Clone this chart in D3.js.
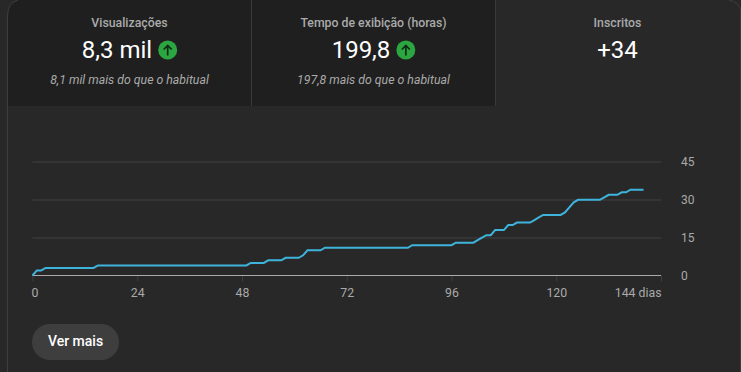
<!DOCTYPE html>
<meta charset="utf-8">
<script src="https://d3js.org/d3.v7.min.js"></script>
<style>
	html,body{margin:0;padding:0;background:#282828;overflow:hidden;}
	svg{display:block;font-family:Roboto,sans-serif;}
</style>
<div id="chart"></div>
<script>

// cumulative subscribers, one value per day (0 to 140)
var subscribers = [
	0,2,2,3,3,3,3,3,3,3,
	3,3,3,3,3,4,4,4,4,4,
	4,4,4,4,4,4,4,4,4,4,
	4,4,4,4,4,4,4,4,4,4,
	4,4,4,4,4,4,4,4,4,4,
	5,5,5,5,6,6,6,6,7,7,
	7,7,8,10,10,10,10,11,11,11,
	11,11,11,11,11,11,11,11,11,11,
	11,11,11,11,11,11,11,12,12,12,
	12,12,12,12,12,12,12,13,13,13,
	13,13,14,15,16,16,18,18,18,20,
	20,21,21,21,21,22,23,24,24,24,
	24,24,25,27,29,30,30,30,30,30,
	30,31,32,32,32,33,33,34,34,34,
	34
]
var xTicks = [0,24,48,72,96,120,144]
var yTicks = [0,15,30,45]

var cardTitles = ["Visualizações","Tempo de exibição (horas)","Inscritos"]
var cardValues = ["8,3 mil","199,8","+34"]
var cardNotes = ["8,1 mil mais do que o habitual","197,8 mais do que o habitual",""]
var cardArrows = [true,true,false]
var cardCenters = [129.5,373.5,617.5]

var w = 741
var h = 372

var svg = d3.select("#chart").append("svg").attr("width",w).attr("height",h)

svg.append("rect").attr("width",w).attr("height",h).attr("fill","#282828")

// dark part behind the first two cards
svg.append("path")
	.attr("d","M8,106V14Q8,2 20,0H495V106Z")
	.attr("fill","#1f1f1f")

// outer border with the rounded corners
svg.append("path")
	.attr("d","M7.5,"+h+"V16Q7.5,3 18,0")
	.attr("fill","none").attr("stroke","#3e3e3e")
svg.append("path")
	.attr("d","M729,0Q738,2 740.5,9V"+h)
	.attr("fill","none").attr("stroke","#3e3e3e")

svg.selectAll(".divider").data([251.5,495.5]).enter().append("line")
	.attr("class","divider")
	.attr("x1",function(d){return d}).attr("x2",function(d){return d})
	.attr("y1",0).attr("y2",106)
	.attr("stroke","#3a3a3a")

var cards = svg.selectAll(".card").data(cardTitles).enter().append("g").attr("class","card")

cards.append("text")
	.attr("x",function(d,i){return cardCenters[i]}).attr("y",27)
	.attr("text-anchor","middle")
	.attr("fill","#aaa")
	.style("font-size","12.3px").style("font-weight",500)
	.text(function(d){return d})

var values = cards.append("text")
	.attr("x",function(d,i){return cardCenters[i]}).attr("y",58)
	.attr("text-anchor","middle")
	.attr("fill","#fff")
	.style("font-size","24px")
	.text(function(d,i){return cardValues[i]})

cards.append("text")
	.attr("x",function(d,i){return cardCenters[i]}).attr("y",84)
	.attr("text-anchor","middle")
	.attr("fill","#aaa")
	.style("font-size","12.3px").style("font-style","italic")
	.text(function(d,i){return cardNotes[i]})

// the green up arrows sit right after the value, so the value moves left by half of it
values.each(function(d,i){
	if(!cardArrows[i]){return}
	var box = this.getBBox()
	var gap = 6
	var r = 9.5
	var shift = (gap+r*2)/2
	d3.select(this).attr("x",cardCenters[i]-shift)
	var cx = box.x-shift+box.width+gap+r
	var g = d3.select(this.parentNode).append("g").attr("transform","translate("+cx+",50)")
	g.append("circle").attr("r",r).attr("fill","#2ba640")
	g.append("path")
		.attr("d","M0,5.5V-4.5M-4,-0.5L0,-4.5L4,-0.5")
		.attr("fill","none").attr("stroke","#0f2a14").attr("stroke-width",1.7)
})

var x = d3.scaleLinear().domain([0,144]).range([32.5,661])
var y = d3.scaleLinear().domain([0,45]).range([275.5,162])

var gridAxis = d3.axisRight(y).tickValues(yTicks).tickSize(0).tickPadding(20)

var yG = svg.append("g").attr("transform","translate(661,0)").call(gridAxis)
yG.select(".domain").remove()
yG.selectAll("text").attr("fill","#aaa").style("font-size","12px").style("font-family","Roboto,sans-serif")

svg.selectAll(".grid").data(yTicks.slice(1)).enter().append("line")
	.attr("class","grid")
	.attr("x1",x(0)).attr("x2",x(144))
	.attr("y1",function(d){return Math.round(y(d))}).attr("y2",function(d){return Math.round(y(d))})
	.attr("stroke","#343434").attr("stroke-width",2)

var xAxis = d3.axisBottom(x).tickValues(xTicks).tickSize(6).tickPadding(7)
	.tickFormat(function(d){return d==144?"144 dias":d})

var xG = svg.append("g").attr("transform","translate(0,275.5)").call(xAxis)
xG.select(".domain").remove()
xG.selectAll("line").attr("stroke","#3e3e3e")
xG.selectAll("text").attr("fill","#aaa").style("font-size","12.3px").style("font-family","Roboto,sans-serif")
	.attr("text-anchor","middle")
xG.selectAll("text").filter(function(d){return d==144}).attr("text-anchor","end")
xG.selectAll("text").filter(function(d){return d==0}).attr("dx",2)

svg.append("line")
	.attr("x1",x(0)).attr("x2",x(144)).attr("y1",275.5).attr("y2",275.5)
	.attr("stroke","#aaa")

var line = d3.line()
	.x(function(d,i){return x(i)})
	.y(function(d){return y(d)})

svg.append("path").datum(subscribers)
	.attr("d",line)
	.attr("fill","none")
	.attr("stroke","#3eb4dc")
	.attr("stroke-width",2)

// button
svg.append("rect")
	.attr("x",32).attr("y",324).attr("width",87).attr("height",36).attr("rx",18)
	.attr("fill","#3e3e3e")
svg.append("text")
	.attr("x",75.5).attr("y",346)
	.attr("text-anchor","middle")
	.attr("fill","#fff")
	.style("font-size","14px").style("font-weight",500)
	.text("Ver mais")

</script>
